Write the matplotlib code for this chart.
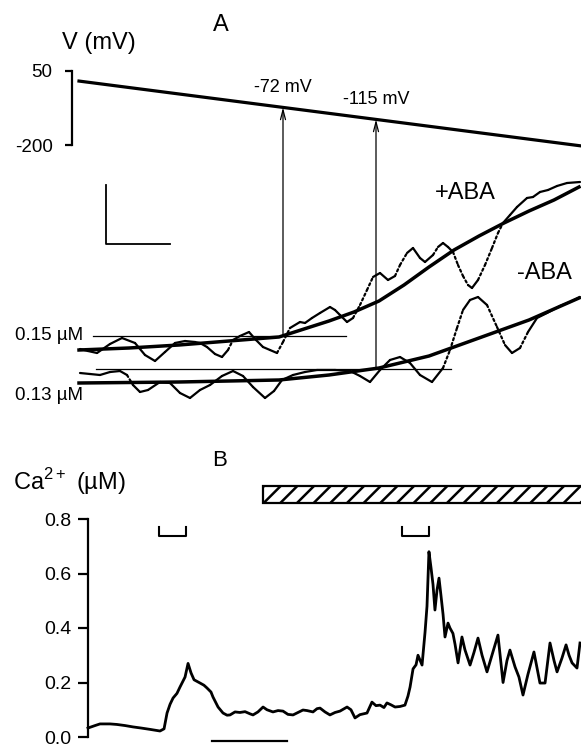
import numpy as np
import matplotlib
matplotlib.use("Agg")
import matplotlib.pyplot as plt
from matplotlib.patches import Rectangle

plt.rcParams['font.family'] = ['Liberation Sans', 'DejaVu Sans']
plt.rcParams['mathtext.fontset'] = 'custom'
plt.rcParams['mathtext.rm'] = 'Liberation Sans'
plt.rcParams['axes.unicode_minus'] = False
plt.rcParams['hatch.linewidth'] = 1.8

# ---------------- panel A data ----------------
# voltage ramp (mV) against time (s)
ramp_t = [0, 100.4]
ramp_v = [16, -203]

# +ABA raw trace, Ca (uM)
plus_t = [0.2, 1.8, 3.6, 6.2, 8.6, 11.2, 13.2, 15.2, 17.2, 19.2, 21.2, 23.2, 24.2, 25.6,
          27.2, 28.6, 29.8, 30.8, 32.2, 34.0, 35.4, 36.8, 38.2, 39.6, 40.8, 42.2, 44.2,
          45.2, 46.6, 48.2, 50.2, 51.2, 52.2, 53.6, 54.8, 56.2, 57.6, 58.8, 60.2, 61.8,
          63.2, 64.2, 65.6, 66.8, 68.2, 69.2, 70.8, 71.8, 72.8, 73.8, 74.8, 75.8, 76.8,
          77.8, 78.6, 79.8, 81.2, 82.6, 83.8, 84.8, 86.2, 87.6, 89.6, 90.8, 92.2, 93.8,
          95.6, 97.6, 100.2]
plus_ca = [0.124, 0.120, 0.116, 0.134, 0.146, 0.136, 0.112, 0.100, 0.118, 0.136, 0.140,
           0.138, 0.136, 0.128, 0.114, 0.108, 0.122, 0.142, 0.150, 0.158, 0.142, 0.128,
           0.122, 0.116, 0.138, 0.166, 0.178, 0.176, 0.186, 0.196, 0.208, 0.202, 0.192,
           0.178, 0.186, 0.212, 0.242, 0.268, 0.276, 0.262, 0.270, 0.292, 0.316, 0.326,
           0.306, 0.298, 0.312, 0.328, 0.336, 0.328, 0.318, 0.292, 0.270, 0.252, 0.246,
           0.262, 0.292, 0.326, 0.356, 0.376, 0.392, 0.408, 0.426, 0.428, 0.438, 0.442,
           0.450, 0.456, 0.458]
# +ABA fitted curve
plus_fit_t = [0, 10, 20, 30, 40, 45, 50, 55, 60, 65, 70, 75, 80, 85, 90, 95, 100]
plus_fit_ca = [0.122, 0.126, 0.132, 0.140, 0.148, 0.164, 0.180, 0.198, 0.220, 0.252,
               0.288, 0.322, 0.350, 0.376, 0.400, 0.422, 0.448]

# -ABA raw trace, Ca (uM)
minus_t = [0.2, 2.2, 4.2, 6.2, 8.2, 9.6, 10.8, 12.2, 13.8, 16.2, 18.2, 20.2, 22.2, 24.2,
           26.2, 28.6, 30.8, 32.8, 34.8, 37.2, 39.0, 40.6, 42.8, 45.2, 47.6, 51.2, 54.2,
           56.2, 58.2, 60.2, 62.2, 64.2, 66.2, 68.2, 70.6, 72.8, 74.2, 75.6, 76.8, 78.2,
           79.8, 81.6, 83.6, 85.2, 86.6, 88.2, 89.8, 91.6, 93.6, 96.2, 98.2, 100.2]
minus_ca = [0.122, 0.120, 0.118, 0.124, 0.126, 0.118, 0.098, 0.084, 0.088, 0.104, 0.102,
            0.082, 0.072, 0.088, 0.098, 0.116, 0.126, 0.116, 0.094, 0.072, 0.086, 0.108,
            0.118, 0.124, 0.128, 0.128, 0.126, 0.116, 0.104, 0.128, 0.148, 0.154, 0.142,
            0.118, 0.104, 0.132, 0.168, 0.212, 0.248, 0.268, 0.274, 0.258, 0.214, 0.178,
            0.162, 0.172, 0.204, 0.232, 0.242, 0.256, 0.264, 0.274]
# -ABA fitted curve
minus_fit_t = [0, 20, 30, 40, 50, 60, 70, 80, 90, 100]
minus_fit_ca = [0.102, 0.104, 0.106, 0.108, 0.118, 0.132, 0.156, 0.192, 0.228, 0.272]
minus_offset = -0.046   # vertical display offset of the -ABA traces

thresholds = [0.15, 0.13]          # uM, +ABA and -ABA
thr_start = [2.8, 3.4]
thr_end = [53.4, 74.4]
cross_t = [40.8, 59.4]             # threshold crossing times
cross_labels = ['-72 mV', '-115 mV']

# ---------------- panel B data ----------------
b_t = [0.0, 0.47, 0.8, 1.47, 1.93, 2.47, 3.0, 3.53, 4.13, 4.8, 5.07, 5.27, 5.47, 5.67,
       5.93, 6.13, 6.47, 6.67, 6.87, 7.07, 7.47, 7.73, 7.93, 8.2, 8.33, 8.67, 9.0, 9.27,
       9.47, 9.8, 10.13, 10.47, 10.8, 11.0, 11.33, 11.67, 11.93, 12.33, 12.67, 13.0,
       13.33, 13.67, 14.0, 14.33, 14.6, 15.0, 15.27, 15.47, 15.8, 16.13, 16.47, 16.8,
       17.27, 17.53, 17.8, 18.13, 18.6, 18.93, 19.2, 19.47, 19.73, 19.93, 20.2, 20.47,
       20.8, 21.13, 21.33, 21.47, 21.67, 21.87, 22.0, 22.27, 22.47, 22.6, 22.73, 22.87,
       23.0, 23.13, 23.27, 23.4, 23.53, 23.67, 23.8, 24.0, 24.13, 24.33, 24.47, 24.67,
       24.93, 25.13, 25.47, 25.73, 26.0, 26.27, 26.6, 26.93, 27.33, 27.67, 27.93, 28.13,
       28.47, 28.73, 29.0, 29.33, 29.73, 30.13, 30.47, 30.8, 31.07, 31.27, 31.6, 31.87,
       32.07, 32.27, 32.6, 32.8]
b_ca = [0.033, 0.042, 0.048, 0.048, 0.046, 0.042, 0.037, 0.033, 0.028, 0.022, 0.030,
        0.088, 0.120, 0.143, 0.160, 0.183, 0.220, 0.270, 0.235, 0.210, 0.198, 0.190,
        0.180, 0.165, 0.147, 0.110, 0.088, 0.080, 0.081, 0.092, 0.090, 0.093, 0.085,
        0.081, 0.092, 0.110, 0.100, 0.092, 0.097, 0.095, 0.083, 0.081, 0.090, 0.099,
        0.097, 0.092, 0.104, 0.106, 0.092, 0.081, 0.090, 0.095, 0.110, 0.100, 0.070,
        0.082, 0.088, 0.128, 0.115, 0.117, 0.108, 0.125, 0.118, 0.110, 0.112, 0.117,
        0.150, 0.183, 0.250, 0.265, 0.300, 0.264, 0.385, 0.480, 0.680, 0.620, 0.560,
        0.466, 0.540, 0.583, 0.520, 0.450, 0.367, 0.418, 0.400, 0.380, 0.340, 0.272,
        0.367, 0.320, 0.264, 0.310, 0.363, 0.300, 0.239, 0.300, 0.374, 0.200, 0.280,
        0.319, 0.257, 0.220, 0.154, 0.230, 0.312, 0.198, 0.198, 0.345, 0.280, 0.239,
        0.290, 0.338, 0.300, 0.272, 0.253, 0.345]
aba_start = 11.67          # hatched bar (ABA) start, min
bracket_t = [4.73, 20.93]  # analysed windows
bracket_w = 1.8

W, H = 581, 744
fig = plt.figure(figsize=(W / 100, H / 100), dpi=100)

def fx(px):
    return px / W

def fy(py):
    return 1 - py / H

def raw_trace(ax, t, c, steep=1.6):
    # raw recordings: steep stretches show up dotted, flat ones solid
    t = np.asarray(t)
    c = np.asarray(c)
    for k in range(len(t) - 1):
        slope = abs(c[k + 1] - c[k]) / (t[k + 1] - t[k]) * 100
        ls = (0, (1.0, 1.3)) if slope > steep else '-'
        ax.plot(t[k:k + 2], c[k:k + 2], color='black', lw=1.6, ls=ls,
                solid_capstyle='round', dash_capstyle='round', clip_on=False)

# ---- voltage axes ----
ax_v = fig.add_axes([fx(79), fy(145), fx(581) - fx(79), 74 / H])
ax_v.set_xlim(0, 100.4)
ax_v.set_ylim(-200, 50)
ax_v.plot(ramp_t, ramp_v, color='black', lw=2.3, clip_on=False)
for s in ['top', 'right', 'bottom']:
    ax_v.spines[s].set_visible(False)
ax_v.spines['left'].set_position(('outward', 5))
ax_v.spines['left'].set_linewidth(1.6)
ax_v.set_xticks([])
ax_v.set_yticks([-200, 50])
ax_v.tick_params(axis='y', direction='out', length=5, width=1.6, pad=9, labelsize=13.5)
ax_v.patch.set_visible(False)

# ---- calcium traces, panel A ----
ax_a = fig.add_axes([fx(79), fy(400), fx(581) - fx(79), 230 / H])
ax_a.set_xlim(0, 100.4)
ax_a.set_ylim(0.022, 0.482)
ax_a.axis('off')

raw_trace(ax_a, plus_t, plus_ca)
raw_trace(ax_a, minus_t, np.array(minus_ca) + minus_offset)
ax_a.plot(plus_fit_t, plus_fit_ca, color='black', lw=2.5, clip_on=False)
ax_a.plot(minus_fit_t, np.array(minus_fit_ca) + minus_offset, color='black', lw=2.5,
          clip_on=False)

thr_disp = [thresholds[0], thresholds[1] + minus_offset]
for i in range(2):
    ax_a.plot([thr_start[i], thr_end[i]], [thr_disp[i], thr_disp[i]], color='black',
              lw=0.9, clip_on=False)
    v_hit = np.interp(cross_t[i], ramp_t, ramp_v)
    ax_a.annotate('', xy=(cross_t[i], v_hit), xycoords=ax_v.transData,
                  xytext=(cross_t[i], thr_disp[i]), textcoords='data',
                  annotation_clip=False,
                  arrowprops=dict(arrowstyle='->,head_length=0.7,head_width=0.18',
                                  lw=0.9, color='black', shrinkA=0, shrinkB=0))
    ax_v.annotate(cross_labels[i], xy=(cross_t[i], v_hit), xytext=(0, 8),
                  textcoords='offset points', ha='center', va='bottom', fontsize=13,
                  annotation_clip=False)

ax_a.text(0.8, thr_disp[0], '0.15 µM', ha='right', va='center', fontsize=13.5)
ax_a.text(0.8, thr_disp[1] - 0.054, '0.13 µM', ha='right', va='center', fontsize=13.5)
ax_a.text(77.2, 0.436, '+ABA', ha='center', va='center', fontsize=17)
ax_a.text(93.0, 0.276, '-ABA', ha='center', va='center', fontsize=17)

# scale bar (13 s, 0.12 uM)
ax_a.plot([5.4, 5.4, 5.4 + 12.8], [0.334 + 0.118, 0.334, 0.334], color='black', lw=1.3,
          clip_on=False)

fig.text(fx(221), fy(25), 'A', ha='center', va='center', fontsize=17)
fig.text(fx(99), fy(43), 'V (mV)', ha='center', va='center', fontsize=17)

# ---- panel B ----
ax_b = fig.add_axes([fx(88), fy(737), fx(581) - fx(88), 218 / H])
ax_b.set_xlim(0, (581 - 88) / 15)
ax_b.set_ylim(0, 0.8)
ax_b.plot(b_t, b_ca, color='black', lw=2.0, clip_on=False)
for s in ['top', 'right', 'bottom']:
    ax_b.spines[s].set_visible(False)
ax_b.spines['left'].set_linewidth(1.6)
ax_b.set_xticks([])
ax_b.set_yticks([0.0, 0.2, 0.4, 0.6, 0.8])
ax_b.set_yticklabels(['0.0', '0.2', '0.4', '0.6', '0.8'])
ax_b.tick_params(axis='y', direction='out', length=7, width=1.6, pad=5, labelsize=14)
ax_b.patch.set_visible(False)

ax_b.add_patch(Rectangle((aba_start, 0.859), 30, 0.062, facecolor='white',
                         edgecolor='black', lw=1.6, hatch='//', clip_on=False))
for bt in bracket_t:
    ax_b.plot([bt, bt, bt + bracket_w, bt + bracket_w], [0.771, 0.738, 0.738, 0.771],
              color='black', lw=1.5, clip_on=False)
# time scale bar (5 min)
ax_b.plot([8.27, 13.27], [-0.015, -0.015], color='black', lw=1.6, clip_on=False)

fig.text(fx(220), fy(460), 'B', ha='center', va='center', fontsize=16)
fig.text(fx(69), fy(482), r'Ca$^{2+}$ (µM)', ha='center', va='center', fontsize=17)

fig.savefig('out.png', dpi=100)
